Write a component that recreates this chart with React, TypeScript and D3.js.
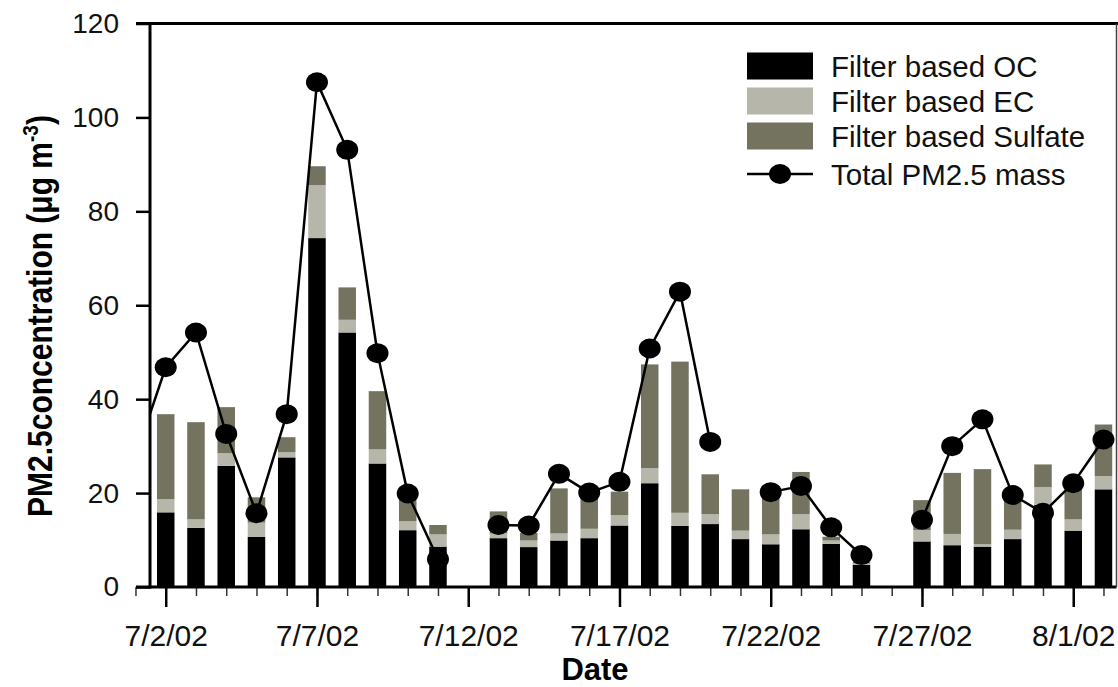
import React, { useEffect, useRef } from "react";
import * as d3 from "d3";

// daily samples, 7/1/02 .. 8/2/02 (null = no sample)
const days = [
  "7/1/02", "7/2/02", "7/3/02", "7/4/02", "7/5/02", "7/6/02", "7/7/02", "7/8/02",
  "7/9/02", "7/10/02", "7/11/02", "7/12/02", "7/13/02", "7/14/02", "7/15/02", "7/16/02",
  "7/17/02", "7/18/02", "7/19/02", "7/20/02", "7/21/02", "7/22/02", "7/23/02", "7/24/02",
  "7/25/02", "7/26/02", "7/27/02", "7/28/02", "7/29/02", "7/30/02", "7/31/02", "8/1/02", "8/2/02",
];

const ocValues = [
  null, 15.9, 12.6, 25.8, 10.7, 27.6, 74.3, 54.2, 26.3, 12.1, 8.6,
  null, 10.4, 8.5, 9.9, 10.4, 13.1, 22.1, 13.0, 13.4, 10.2, 9.1, 12.3, 9.2, 4.7,
  null, 9.7, 8.9, 8.6, 10.2, 17.5, 12.0, 20.8,
];

const ecValues = [
  null, 2.8, 1.8, 2.7, 3.0, 1.1, 11.3, 2.7, 3.0, 1.9, 2.6,
  null, 1.0, 1.4, 1.5, 2.0, 2.2, 3.2, 2.8, 2.1, 1.8, 2.1, 3.2, 0.7, 0.3,
  null, 2.4, 2.4, 0.5, 2.0, 3.8, 2.4, 2.8,
];

const sulfateValues = [
  null, 18.1, 20.7, 9.8, 5.4, 3.2, 4.0, 6.9, 12.4, 5.0, 2.0,
  null, 4.7, 1.6, 9.6, 8.1, 5.0, 22.1, 32.2, 8.5, 8.8, 8.1, 9.0, 0.8, 0.3,
  null, 6.4, 13.0, 16.0, 6.6, 4.8, 7.2, 11.0,
];

const totalMass = [
  27.7, 46.8, 54.2, 32.6, 15.7, 36.8, 107.5, 93.1, 49.8, 19.9, 5.9,
  null, 13.2, 13.1, 24.1, 20.1, 22.4, 50.8, 62.9, 30.9, null, 20.2, 21.5, 12.7, 6.8,
  null, 14.3, 30.0, 35.7, 19.6, 15.8, 22.1, 31.4,
];

const xTickLabels = ["7/2/02", "7/7/02", "7/12/02", "7/17/02", "7/22/02", "7/27/02", "8/1/02"];
const yTicks = [0, 20, 40, 60, 80, 100, 120];
const seriesNames = ["Filter based OC", "Filter based EC", "Filter based Sulfate"];
const lineName = "Total PM2.5 mass";

const W = 1118;
const H = 687;
const colors = ["#000000", "#b6b6aa", "#74735f"];
const FONT = "'Liberation Sans', Arial, Helvetica, sans-serif";

export default function App() {
  const ref = useRef<SVGSVGElement | null>(null);

  useEffect(() => {
    const parse = d3.utcParse("%m/%d/%y");
    const rows = days.map((d, i) => ({
      date: parse(d) as Date,
      oc: ocValues[i],
      ec: ecValues[i],
      sulfate: sulfateValues[i],
      total: totalMass[i],
    }));

    const left = 150;
    const top = 23.5;
    const bottom = 587;
    const right = 1116.5;

    const x = d3
      .scaleUtc()
      .domain([d3.utcHour.offset(rows[0].date, 12), d3.utcHour.offset(rows[rows.length - 1].date, 12)])
      .range([150.6, 1118.6]);
    const y = d3.scaleLinear().domain([0, 120]).range([bottom, top]);

    const svg = d3.select(ref.current);
    svg.selectAll("*").remove();

    svg
      .append("defs")
      .append("clipPath")
      .attr("id", "plot")
      .append("rect")
      .attr("x", left)
      .attr("y", 0)
      .attr("width", right - left)
      .attr("height", H);

    // stacked bars
    const barRows = rows.filter((r) => r.oc != null);
    const stack = d3.stack<any>().keys(["oc", "ec", "sulfate"]);
    const layers = stack(barRows);
    const barW = 17.5;

    const plot = svg.append("g").attr("clip-path", "url(#plot)");
    plot
      .selectAll("g.layer")
      .data(layers)
      .join("g")
      .attr("fill", (_, i) => colors[i])
      .selectAll("rect")
      .data((d) => d)
      .join("rect")
      .attr("x", (d) => x(d.data.date) - barW / 2)
      .attr("width", barW)
      .attr("y", (d) => y(d[1]))
      .attr("height", (d) => y(d[0]) - y(d[1]));

    // total mass line
    const line = d3
      .line<any>()
      .defined((d) => d.total != null)
      .x((d) => x(d.date))
      .y((d) => y(d.total));

    plot
      .append("path")
      .datum(rows)
      .attr("fill", "none")
      .attr("stroke", "#000")
      .attr("stroke-width", 2.5)
      .attr("d", line);

    plot
      .selectAll("ellipse.pt")
      .data(rows.filter((r) => r.total != null))
      .join("ellipse")
      .attr("cx", (d) => x(d.date))
      .attr("cy", (d) => y(d.total as number))
      .attr("rx", 11)
      .attr("ry", 10)
      .attr("fill", "#000");

    // y axis
    const yAxis = svg
      .append("g")
      .attr("transform", `translate(${left},0)`)
      .call(d3.axisLeft(y).tickValues(yTicks).tickSize(14).tickPadding(17));
    yAxis.select(".domain").remove();
    yAxis.selectAll(".tick line").attr("stroke-width", 2.5);
    yAxis
      .selectAll(".tick text")
      .attr("font-family", FONT)
      .attr("font-size", 28)
      .attr("fill", "#111");

    // x axis: minor daily ticks + labelled major ticks
    const minor = svg
      .append("g")
      .attr("transform", `translate(0,${bottom})`)
      .call(
        d3
          .axisBottom(x)
          .tickValues(rows.map((r) => r.date))
          .tickSize(9)
          .tickFormat(() => "")
      );
    minor.select(".domain").remove();
    minor.selectAll(".tick line").attr("stroke-width", 1.5).attr("stroke", "#333");

    const majorDates = xTickLabels.map((t) => +(parse(t) as Date));
    const major = svg
      .append("g")
      .attr("transform", `translate(0,${bottom})`)
      .call(
        d3
          .axisBottom(x)
          .tickValues(xTickLabels.map((t) => parse(t) as Date))
          .tickSize(20)
          .tickFormat((d) => xTickLabels[majorDates.indexOf(+d)])
      );
    major.select(".domain").remove();
    major.selectAll(".tick line").attr("stroke-width", 2.5);
    major
      .selectAll(".tick text")
      .attr("y", 59)
      .attr("dy", 0)
      .attr("font-family", FONT)
      .attr("font-size", 30)
      .attr("fill", "#111");

    // frame
    svg.append("line").attr("x1", left).attr("x2", left).attr("y1", top - 1.5).attr("y2", bottom + 1.5)
      .attr("stroke", "#000").attr("stroke-width", 3);
    svg.append("line").attr("x1", left - 14).attr("x2", right).attr("y1", bottom).attr("y2", bottom)
      .attr("stroke", "#000").attr("stroke-width", 3);
    svg.append("line").attr("x1", left - 14).attr("x2", W).attr("y1", top).attr("y2", top)
      .attr("stroke", "#000").attr("stroke-width", 3);
    svg.append("line").attr("x1", right).attr("x2", right).attr("y1", top).attr("y2", bottom)
      .attr("stroke", "#444").attr("stroke-width", 1.5);

    // axis titles
    svg
      .append("text")
      .attr("x", 595)
      .attr("y", 680)
      .attr("text-anchor", "middle")
      .attr("font-family", FONT)
      .attr("font-weight", "bold")
      .attr("font-size", 31)
      .text("Date");

    const yl = svg
      .append("text")
      .attr("transform", "translate(52,316) rotate(-90) scale(1,1.15)")
      .attr("text-anchor", "middle")
      .attr("font-family", FONT)
      .attr("font-weight", "bold")
      .attr("font-size", 30);
    yl.append("tspan").text("PM2.5concentration (μg m");
    yl.append("tspan").attr("dy", -12).attr("font-size", 19).text("-3");
    yl.append("tspan").attr("dy", 12).text(")");

    // legend
    const lg = svg.append("g").attr("font-family", FONT).attr("font-size", 29.5);
    const rowY = [66, 101, 136, 174];
    seriesNames.forEach((name, i) => {
      lg.append("rect").attr("x", 747).attr("y", rowY[i] - 13.5).attr("width", 66).attr("height", 27).attr("fill", colors[i]);
      lg.append("text").attr("x", 831).attr("y", rowY[i] + 10.5).attr("fill", "#111").text(name);
    });
    lg.append("line").attr("x1", 747).attr("x2", 813).attr("y1", rowY[3]).attr("y2", rowY[3])
      .attr("stroke", "#000").attr("stroke-width", 2.5);
    lg.append("ellipse").attr("cx", 780).attr("cy", rowY[3]).attr("rx", 11).attr("ry", 10).attr("fill", "#000");
    lg.append("text").attr("x", 831).attr("y", rowY[3] + 10.5).attr("fill", "#111").text(lineName);
  }, []);

  return (
    <svg
      ref={ref}
      width={W}
      height={H}
      style={{ position: "absolute", left: 0, top: 0, background: "#fff" }}
    />
  );
}
